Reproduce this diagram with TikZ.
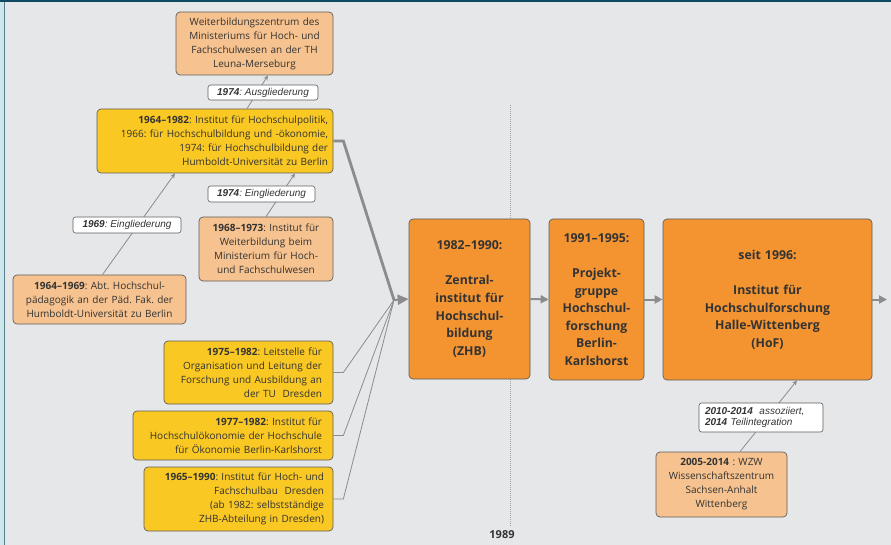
\documentclass[tikz,border=0pt]{standalone}
\usepackage{fontspec}
\setmainfont{Open Sans}
\newfontfamily\lblfont{Liberation Sans}
\usetikzlibrary{arrows.meta}
\frenchspacing
\definecolor{bgc}{HTML}{E6E7E9}
\definecolor{stripc}{HTML}{CDE8EC}
\definecolor{stripline}{HTML}{5B7F8D}
\definecolor{topc}{HTML}{0E4B62}
\definecolor{peachc}{HTML}{F6C28F}
\definecolor{yelc}{HTML}{F9C823}
\definecolor{orac}{HTML}{F39431}
\definecolor{boxline}{HTML}{5E5E5E}
\definecolor{txt}{HTML}{333333}
\definecolor{arr}{HTML}{8C8C8C}
\definecolor{dotc}{HTML}{A3A3A3}
\begin{document}
\begin{tikzpicture}[x=1pt,y=-1pt,
  box/.style={draw=boxline, line width=0.7pt, rounded corners=4pt, inner sep=0pt,
    text=txt, font=\fontsize{10}{14}\selectfont\frenchspacing},
  peach/.style={box, fill=peachc, align=center},
  yel/.style={box, fill=yelc, align=right},
  big/.style={box, fill=orac, align=center, font=\fontsize{12.3}{17.6}\selectfont\bfseries},
  lbl/.style={draw=boxline, fill=white, rounded corners=2.5pt, line width=0.6pt, inner sep=0pt,
    text=txt, font=\lblfont\fontsize{10}{11.5}\selectfont\itshape\frenchspacing},
  thinarr/.style={draw=arr, line width=0.8pt, -{Stealth[length=5pt,width=4.5pt]}},
  thinline/.style={draw=arr, line width=0.8pt},
  bigarr/.style={draw=arr, line width=2pt, -{Triangle[length=8pt,width=8pt]}}
]
\useasboundingbox (0,0) rectangle (891,545);
% frame
\fill[bgc] (0,0) rectangle (891,545);
\fill[stripc] (0,0) rectangle (4,545);
\draw[stripline, line width=1pt] (4.5,0) -- (4.5,545);
\fill[topc] (0,0) rectangle (891,2.5);

% dotted 1989 line
\coordinate (dtop) at (510,105);
\coordinate (dbot) at (510,526);
\draw[dotc, line width=0.8pt, dash pattern=on 1pt off 1pt] (dtop) -- (dbot);
\node[font=\fontsize{11}{12}\selectfont\bfseries, text=txt] (y1989) at (502,535) {1989};

% boxes
\node[peach, minimum width=157pt, minimum height=63pt, text width=145pt] (b1) at (254.5,43.5)
  {Weiterbildungszentrum des\\Ministeriums für Hoch- und\\Fachschulwesen an der TH\\Leuna-Merseburg};
\node[yel, minimum width=236pt, minimum height=64pt, text width=226pt] (b3) at (215,141)
  {\textbf{1964–1982}: Institut für Hochschulpolitik,\\1966: für Hochschulbildung und -ökonomie,~\\1974: für Hochschulbildung der\\Humboldt-Universität zu Berlin};
\node[peach, minimum width=134pt, minimum height=64pt, text width=126pt] (b5) at (266,249)
  {\textbf{1968–1973}: Institut für\\Weiterbildung beim\\Ministerium für Hoch-\\und Fachschulwesen};
\node[peach, minimum width=173pt, minimum height=49pt, text width=165pt] (b7) at (99.5,299.5)
  {\textbf{1964–1969}: Abt. Hochschul-\\pädagogik an der Päd. Fak. der\\Humboldt-Universität zu Berlin};
\node[yel, minimum width=169pt, minimum height=63pt, text width=147pt] (b8) at (248.5,372.5)
  {\textbf{1975–1982}: Leitstelle für\\Organisation und Leitung der\\Forschung und Ausbildung an~\\der TU~ Dresden};
\node[yel, minimum width=200pt, minimum height=49pt, text width=178pt] (b9) at (233,435.5)
  {\textbf{1977–1982}: Institut für\\Hochschulökonomie der Hochschule~\\für Ökonomie Berlin-Karlshorst~};
\node[yel, minimum width=189pt, minimum height=64pt, text width=171pt] (b10) at (238.5,499)
  {\textbf{1965–1990}: Institut für Hoch- und~\\Fachschulbau~ Dresden\\(ab 1982: selbstständige~\\ZHB-Abteilung in Dresden)~};

\node[big, minimum width=121pt, minimum height=160pt, text width=115pt] (zhb) at (469.5,299)
  {1982–1990:\\[17.6pt]Zentral-\\institut für\\Hochschul-\\bildung\\(ZHB)};
\node[big, minimum width=95pt, minimum height=161pt, text width=91pt] (proj) at (596.5,299.5)
  {1991–1995:\\[17.6pt]Projekt-\\gruppe\\Hochschul-\\forschung\\Berlin-\\Karlshorst};
\node[big, minimum width=209pt, minimum height=161pt, text width=200pt] (hof) at (767.5,299.5)
  {seit 1996:\\[17.6pt]Institut für\\Hochschulforschung\\Halle-Wittenberg\\(HoF)};
\node[peach, minimum width=131pt, minimum height=65pt, text width=126pt] (wzw) at (721.5,484.5)
  {\textbf{2005-2014}~: WZW\\Wissenschaftszentrum\\Sachsen-Anhalt\\Wittenberg};

% thin arrows
\draw[thinarr] ([xshift=3pt]b7.north) -- ([xshift=-40pt]b3.south);
\draw[thinarr] (b5.north) -- ([xshift=80pt]b3.south);
\draw[thinarr] ([xshift=32pt]b3.north) -- ([xshift=13.5pt]b1.south);
\draw[thinarr] ([xshift=18.5pt]wzw.north) -- ([xshift=29.5pt]hof.south);

% labels
\node[lbl, minimum width=110pt, minimum height=15pt] (l1) at (263,92.5) {\textbf{1974}: Ausgliederung};
\node[lbl, minimum width=107pt, minimum height=16pt] (l2) at (261.5,194) {\textbf{1974}: Eingliederung};
\node[lbl, minimum width=108pt, minimum height=16pt] (l3) at (127,225) {\textbf{1969}: Eingliederung};
\node[lbl, minimum width=124pt, minimum height=29pt, text width=112pt, align=left] (l4) at (761,417.5)
  {\textbf{2010-2014}~ assoziiert,\\\textbf{2014} Teilintegration};

% convergence into ZHB
\coordinate (conv) at (394,300);
\draw[thinline] (b8.east) -- ++(10,0) -- (conv);
\draw[thinline] (b9.east) -- ++(10,0) -- (conv);
\draw[thinline] (b10.east) -- ++(10,0) -- (conv);
\draw[arr, line width=2.8pt] (b3.east) -- ++(10,0) -- (conv);
\draw[draw=arr, line width=2pt, -{Triangle[length=11pt,width=10pt]}] (conv) -- (zhb.west);

% chain arrows
\draw[bigarr] (zhb.east) -- (proj.west);
\draw[bigarr] (proj.east) -- (hof.west);
\coordinate (out) at (887,299.5);
\draw[bigarr] (hof.east) -- (out);
\end{tikzpicture}
\end{document}
